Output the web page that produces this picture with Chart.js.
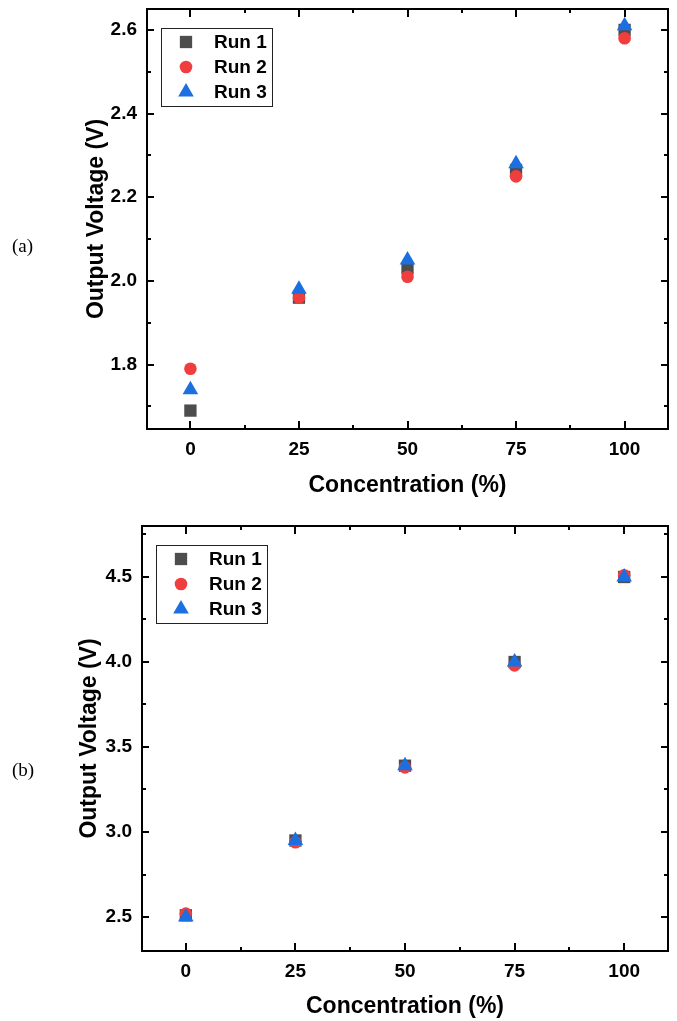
<!DOCTYPE html>
<html>
<head>
<meta charset="utf-8">
<script src="https://cdn.jsdelivr.net/npm/chart.js@4.4.0/dist/chart.umd.min.js"></script>
<style>
  html, body { margin: 0; padding: 0; background: #fff; }
  #page { position: relative; width: 677px; height: 1021px; overflow: hidden; }
  .panel { position: absolute; left: 0; width: 677px; }
  .tag { position: absolute; left: 12px; font: 19px "Liberation Serif", "Times New Roman", serif; line-height: 19px; color: #000; }
</style>
</head>
<body>
<div id="page">
  <div class="panel" style="top:0;height:500px"><canvas id="chartA" width="677" height="500"></canvas></div>
  <div class="panel" style="top:500px;height:521px"><canvas id="chartB" width="677" height="521"></canvas></div>
  <div class="tag" style="top:236px">(a)</div>
  <div class="tag" style="top:760px">(b)</div>
</div>
<script>
const concentration = [0, 25, 50, 75, 100];

// panel (a)
const run1A = [1.69, 1.96, 2.03, 2.265, 2.60];
const run2A = [1.79, 1.96, 2.01, 2.25, 2.58];
const run3A = [1.74, 1.98, 2.05, 2.28, 2.61];

// panel (b)
const run1B = [2.51, 2.95, 3.39, 4.00, 4.50];
const run2B = [2.52, 2.94, 3.38, 3.98, 4.51];
const run3B = [2.50, 2.95, 3.39, 4.00, 4.50];

const runNames = ["Run 1", "Run 2", "Run 3"];

const xTicks = [0, 25, 50, 75, 100];
const xMinorTicks = [12.5, 37.5, 62.5, 87.5];
const yTicksA = [1.8, 2.0, 2.2, 2.4, 2.6];
const yMinorTicksA = [1.7, 1.9, 2.1, 2.3, 2.5];
const yTicksB = [2.5, 3.0, 3.5, 4.0, 4.5];
const yMinorTicksB = [2.75, 3.25, 3.75, 4.25, 4.75];

const FONT = "'Liberation Sans', Arial, sans-serif";

// marker styles for the three runs (drawn 1 -> 3, so Run 3 ends up on top)
const markers = [
    { pointStyle: "rect", radius: 8.7, color: "#4d4d4d", order: 2 },
    { pointStyle: "circle", radius: 6.3, color: "#f03e3e", order: 1 },
    { pointStyle: "triangle", radius: 9, color: "#1b6fe0", order: 0 },
];

function toPoints(ys) {
    return concentration.map((c, i) => ({ x: c, y: ys[i] }));
}

// box frame + inward ticks on all four sides (Origin style)
const frameTicks = {
    id: "frameTicks",
    afterDraw(chart, args, opts) {
        const ctx = chart.ctx;
        const a = chart.chartArea;
        const xs = chart.scales.x;
        const ys = chart.scales.y;
        ctx.save();
        ctx.strokeStyle = "#000";
        ctx.lineWidth = 2;
        ctx.beginPath();
        const tick = (vals, len, isX) => {
            vals.forEach((v) => {
                if (isX) {
                    const p = Math.round(xs.getPixelForValue(v));
                    ctx.moveTo(p, a.bottom); ctx.lineTo(p, a.bottom - len);
                    ctx.moveTo(p, a.top); ctx.lineTo(p, a.top + len);
                } else {
                    const p = Math.round(ys.getPixelForValue(v));
                    ctx.moveTo(a.left, p); ctx.lineTo(a.left + len, p);
                    ctx.moveTo(a.right, p); ctx.lineTo(a.right - len, p);
                }
            });
        };
        tick(opts.xMajor, 8, true);
        tick(opts.xMinor, 4, true);
        tick(opts.yMajor, 7, false);
        tick(opts.yMinor, 4, false);
        ctx.stroke();
        ctx.strokeRect(a.left, a.top, a.right - a.left, a.bottom - a.top);
        ctx.restore();
    },
};

// boxed legend in the top-left corner of the plot
const boxLegend = {
    id: "boxLegend",
    afterDraw(chart) {
        const ctx = chart.ctx;
        const a = chart.chartArea;
        const left = a.left + 14;
        const top = a.top + 19;
        ctx.save();
        ctx.fillStyle = "#fff";
        ctx.fillRect(left, top, 111, 78);
        ctx.strokeStyle = "#222";
        ctx.lineWidth = 1;
        ctx.strokeRect(left + 0.5, top + 0.5, 111, 78);
        chart.data.datasets.forEach((ds, i) => {
            const cy = top + 14 + i * 25;
            ctx.fillStyle = ds.backgroundColor;
            Chart.helpers.drawPoint(ctx, {
                pointStyle: ds.pointStyle,
                radius: ds.pointRadius,
                rotation: 0,
                borderWidth: 0,
            }, left + 25, cy);
            ctx.fillStyle = "#000";
            ctx.font = "bold 19px " + FONT;
            ctx.textBaseline = "middle";
            ctx.textAlign = "left";
            ctx.fillText(ds.label, left + 53, cy + 1);
        });
        ctx.restore();
    },
};

function noPadding(s) {
    s.paddingTop = 0;
    s.paddingBottom = 0;
    s.paddingLeft = 0;
    s.paddingRight = 0;
}

function makeChart(id, runs, yMin, yMax, yTicks, yMinor, pad, yWidth, xHeight) {
    const ctx = document.getElementById(id).getContext("2d");
    return new Chart(ctx, {
        type: "scatter",
        data: {
            datasets: runs.map((ys, i) => ({
                label: runNames[i],
                data: toPoints(ys),
                pointStyle: markers[i].pointStyle,
                pointRadius: markers[i].radius,
                pointBorderWidth: 0,
                backgroundColor: markers[i].color,
                borderColor: markers[i].color,
                order: markers[i].order,
            })),
        },
        options: {
            responsive: false,
            animation: false,
            layout: { padding: pad },
            scales: {
                x: {
                    type: "linear",
                    min: -10,
                    max: 110,
                    grid: { display: false, drawTicks: false },
                    border: { display: false },
                    afterBuildTicks: (s) => { s.ticks = xTicks.map((v) => ({ value: v })); },
                    afterFit: (s) => { s.height = xHeight; noPadding(s); },
                    ticks: {
                        padding: 9,
                        color: "#000",
                        font: { family: FONT, size: 19, weight: "bold" },
                        callback: (v) => String(v),
                    },
                    title: {
                        display: true,
                        text: "Concentration (%)",
                        color: "#000",
                        padding: { top: 0, bottom: 0 },
                        font: { family: FONT, size: 23, weight: "bold" },
                    },
                },
                y: {
                    type: "linear",
                    min: yMin,
                    max: yMax,
                    grid: { display: false, drawTicks: false },
                    border: { display: false },
                    afterBuildTicks: (s) => { s.ticks = yTicks.map((v) => ({ value: v })); },
                    afterFit: (s) => { s.width = yWidth; noPadding(s); },
                    ticks: {
                        padding: 10,
                        color: "#000",
                        font: { family: FONT, size: 19, weight: "bold" },
                        callback: (v) => Number(v).toFixed(1),
                    },
                    title: {
                        display: true,
                        text: "Output Voltage (V)",
                        color: "#000",
                        font: { family: FONT, size: 23, weight: "bold" },
                    },
                },
            },
            plugins: {
                legend: { display: false },
                tooltip: { enabled: false },
                frameTicks: {
                    xMajor: xTicks,
                    xMinor: xMinorTicks,
                    yMajor: yTicks,
                    yMinor: yMinor,
                },
            },
        },
        plugins: [frameTicks, boxLegend],
    });
}

makeChart("chartA", [run1A, run2A, run3A], 1.646, 2.65, yTicksA, yMinorTicksA,
    { left: 79, right: 6, top: 7, bottom: 1 }, 68, 70);
makeChart("chartB", [run1B, run2B, run3B], 2.3, 4.8, yTicksB, yMinorTicksB,
    { left: 72, right: 6, top: 26, bottom: 1 }, 70, 69);
</script>
</body>
</html>
